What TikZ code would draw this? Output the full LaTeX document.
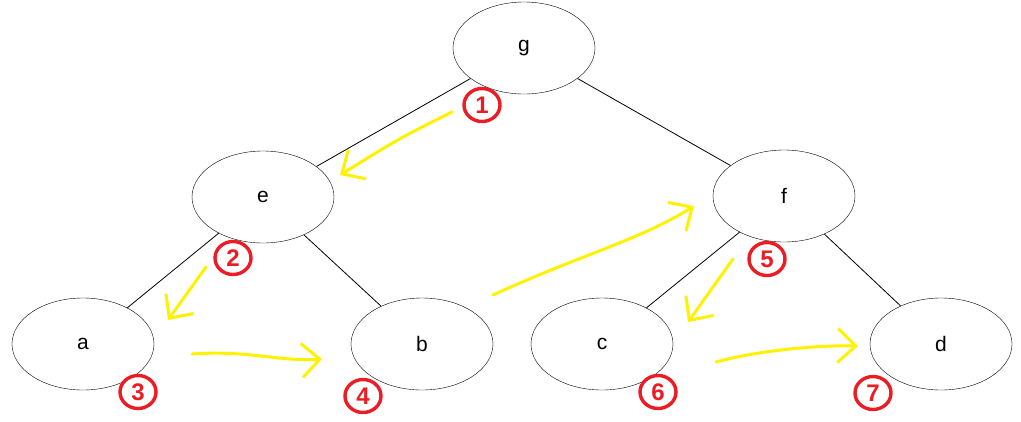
\documentclass[tikz,border=0pt]{standalone}
\usepackage{fontspec}
\setmainfont{Liberation Sans}
\usetikzlibrary{arrows.meta,shapes.geometric}
\definecolor{paintyellow}{HTML}{FFF200}
\definecolor{paintred}{HTML}{ED1C24}
\tikzset{
  tnode/.style={draw=black, ellipse, minimum width=142pt, minimum height=92pt, inner sep=0pt, font=\fontsize{21}{24}\selectfont},
  edge/.style={draw=black, line width=0.8pt},
  walk/.style={paintyellow, line width=3pt, line cap=round, line join=round, -{Straight Barb[length=18pt,width=34pt,line width=3pt]}},
  stepno/.style={draw=paintred, ellipse, line width=3.4pt, minimum width=36pt, minimum height=33pt, inner sep=0pt, text=paintred, font=\bfseries\fontsize{24}{24}\selectfont},
}
\begin{document}
\begin{tikzpicture}[x=1pt, y=-1pt]
    \useasboundingbox (0,0) rectangle (1021,421);
    % tree
    \node[tnode] (g) at (524,48) {g};
    \node[tnode] (e) at (263,197) {e};
    \node[tnode] (f) at (784,196) {f};
    \node[tnode] (a) at (83,344) {a};
    \node[tnode] (b) at (422,344) {b};
    \node[tnode] (c) at (602,344) {c};
    \node[tnode] (d) at (941,344) {d};
    \draw[edge] (g) -- (e); \draw[edge] (g) -- (f);
    \draw[edge] (e) -- (a); \draw[edge] (e) -- (b);
    \draw[edge] (f) -- (c); \draw[edge] (f) -- (d);
    % traversal order
    \coordinate (w1s) at (452,112); \coordinate (w1e) at (340,175);
    \coordinate (w2s) at (206,267); \coordinate (w2e) at (168,320);
    \coordinate (w3s) at (192,354); \coordinate (w3e) at (322,359);
    \coordinate (w4s) at (493,295); \coordinate (w4e) at (694,206);
    \coordinate (w5s) at (733,259); \coordinate (w5e) at (688,322);
    \coordinate (w6s) at (716,362); \coordinate (w6e) at (858,346);
    \draw[walk] (w1s) .. controls (400,138) .. (w1e);
    \draw[walk] (w2s) -- (w2e);
    \draw[walk] (w3s) .. controls (250,350) and (280,362) .. (w3e);
    \draw[walk] (w4s) .. controls (580,255) and (640,240) .. (w4e);
    \draw[walk] (w5s) -- (w5e);
    \draw[walk] (w6s) .. controls (760,350) and (820,345) .. (w6e);
    \node[stepno] (n1) at (482,105) {1};
    \node[stepno] (n2) at (233,258) {2};
    \node[stepno] (n3) at (138,392) {3};
    \node[stepno] (n4) at (363,396) {4};
    \node[stepno] (n5) at (767,259) {5};
    \node[stepno] (n6) at (658,392) {6};
    \node[stepno] (n7) at (873,393) {7};
\end{tikzpicture}
\end{document}
